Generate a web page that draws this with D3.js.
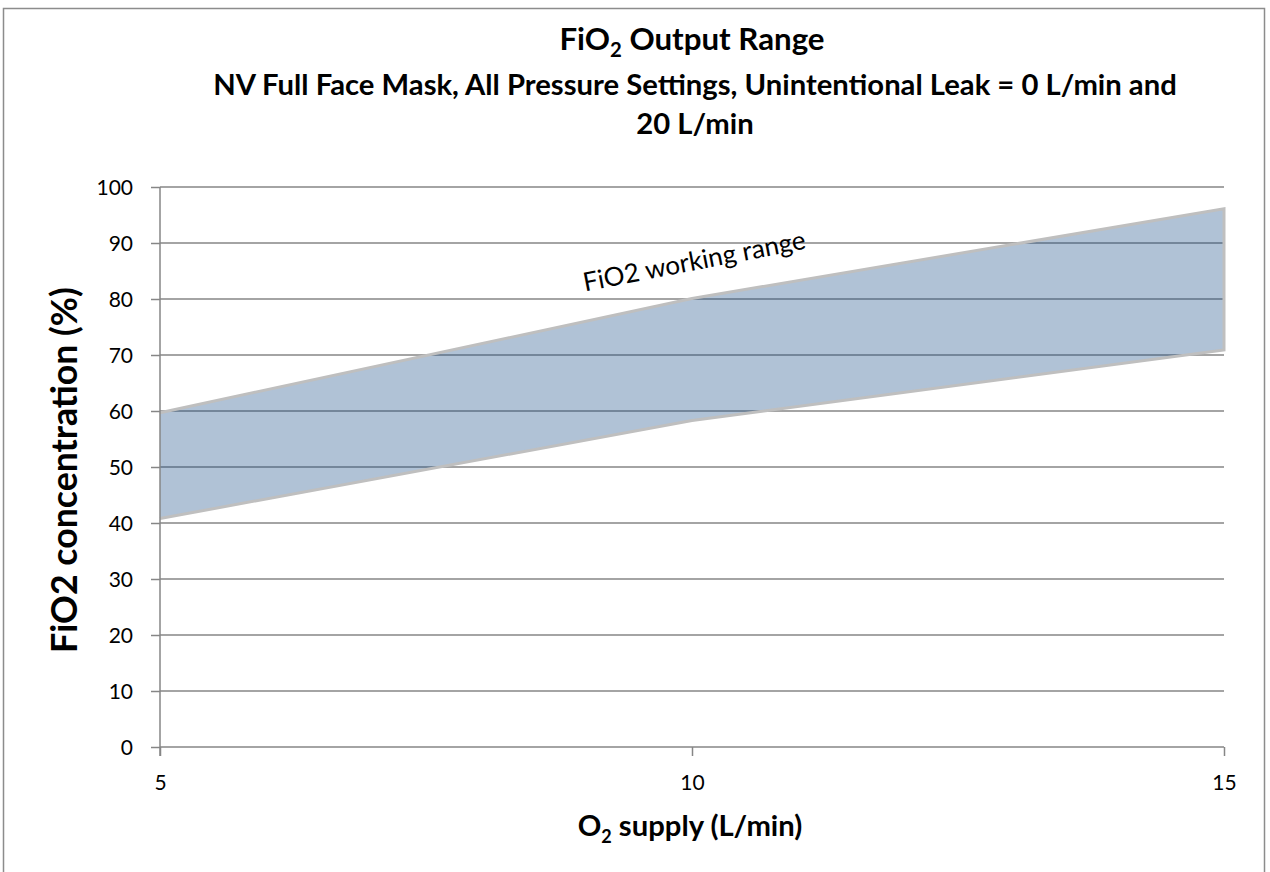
<!DOCTYPE html>
<html><head><meta charset="utf-8">
<script src="https://cdn.jsdelivr.net/npm/d3@7"></script>
<style>body{margin:0;background:#fff}svg{display:block}text{font-family:Lato,"Open Sans",sans-serif;fill:#000}</style>
</head><body><svg id="c" width="1270" height="872"></svg>
<script>
const o2Supply = [5, 10, 15];
const fio2Upper = [59.7, 80.1, 96.1];
const fio2Lower = [40.8, 58.3, 70.9];
const yTicks = [0,10,20,30,40,50,60,70,80,90,100];
const xTicks = [5,10,15];

const svg = d3.select("#c");
svg.append("rect").attr("x",3.5).attr("y",8.5).attr("width",1261).attr("height",870)
  .attr("fill","#fff").attr("stroke","#8c8c8c").attr("stroke-width",1.5);

const x = d3.scaleLinear().domain([5,15]).range([160,1224]);
const y = d3.scaleLinear().domain([0,100]).range([747,187]);

function fit(sel, w){
  const n = sel.node(); const fs = parseFloat(sel.attr("font-size"));
  const cur = n.getComputedTextLength();
  const nf = fs*w/cur; sel.attr("font-size", nf);
  sel.selectAll("tspan").each(function(){const t=d3.select(this); if(t.attr("data-sub")) t.attr("font-size", nf*0.65);});
}

svg.append("g").selectAll("line").data(yTicks.filter(d=>d>0)).join("line")
  .attr("x1",160).attr("x2",1224).attr("y1",d=>y(d)).attr("y2",d=>y(d))
  .attr("stroke","#868686").attr("stroke-width",1.5);

const pts = o2Supply.map((v,i)=>({x:v,u:fio2Upper[i],l:fio2Lower[i]}));
const area = d3.area().x(d=>x(d.x)).y0(d=>y(d.l)).y1(d=>y(d.u));
svg.append("path").datum(pts).attr("d",area)
  .attr("fill","rgb(22,75,134)").attr("fill-opacity",0.34);
const outline = d3.line().x(d=>x(d[0])).y(d=>y(d[1]));
const ring = o2Supply.map((v,i)=>[v,fio2Upper[i]])
  .concat(o2Supply.map((v,i)=>[v,fio2Lower[i]]).reverse().slice(0,3));
svg.append("path").attr("d",outline(ring))
  .attr("fill","none").attr("stroke","#bfbfbf").attr("stroke-width",3);

const yAxis = d3.axisLeft(y).tickValues(yTicks).tickSize(9);
const gy = svg.append("g").attr("transform","translate(160,0)").call(yAxis);
const xAxis = d3.axisBottom(x).tickValues(xTicks).tickSize(9);
const gx = svg.append("g").attr("transform","translate(0,747)").call(xAxis);
[gy,gx].forEach(g=>{
  g.select(".domain").attr("stroke","#868686").attr("stroke-width",1.5);
  g.selectAll(".tick line").attr("stroke","#868686").attr("stroke-width",1.5);
  g.selectAll(".tick text").attr("font-family","Lato, sans-serif").attr("font-size",21).attr("fill","#000");
});
gy.selectAll(".tick text").attr("x",-27).attr("dy","0.36em");
gx.selectAll(".tick text").attr("y",43).attr("dy",0);
gx.select(".domain").attr("d","M160,0H1224");
gy.select(".domain").attr("d","M0,187V756");

const ann = svg.append("text").attr("transform","translate(696,270) rotate(-11)")
  .attr("text-anchor","middle").attr("font-size",22).text("FiO2 working range");
fit(ann, 226);

const t = svg.append("text").attr("x",692).attr("y",50).attr("text-anchor","middle")
  .attr("font-size",28).attr("font-weight","bold");
t.append("tspan").text("FiO");
t.append("tspan").attr("data-sub",1).attr("font-size",18).attr("dy",7).text("2");
t.append("tspan").attr("dy",-7).text(" Output Range");
fit(t, 265);
const s1 = svg.append("text").attr("x",695).attr("y",95).attr("text-anchor","middle")
  .attr("font-size",28).attr("font-weight","bold")
  .text("NV Full Face Mask, All Pressure Settings, Unintentional Leak = 0 L/min and");
fit(s1, 964);
svg.append("text").attr("x",695).attr("y",134).attr("text-anchor","middle")
  .attr("font-size",s1.attr("font-size")).attr("font-weight","bold").text("20 L/min");

const xt = svg.append("text").attr("x",690).attr("y",836).attr("text-anchor","middle")
  .attr("font-size",s1.attr("font-size")).attr("font-weight","bold");
xt.append("tspan").text("O");
xt.append("tspan").attr("font-size",18).attr("dy",7).text("2");
xt.append("tspan").attr("dy",-7).text(" supply (L/min)");

const yt = svg.append("text").attr("transform","translate(77,470) rotate(-90)").attr("text-anchor","middle")
  .attr("font-size",33).attr("font-weight","bold").text("FiO2 concentration (%)");
fit(yt, 366);
</script></body></html>
